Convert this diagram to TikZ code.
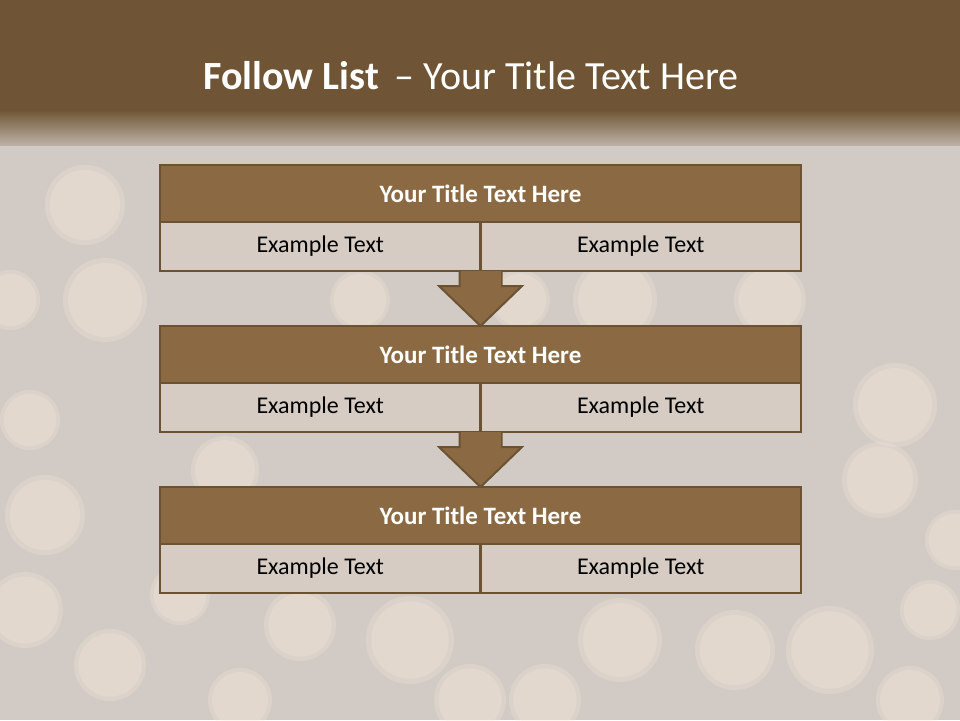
\documentclass[tikz,border=0pt]{standalone}
\usepackage{fontspec}
\setmainfont{Carlito}
\usetikzlibrary{calc}
\definecolor{band}{HTML}{6F5535}
\definecolor{bg}{HTML}{D2CBC5}
\definecolor{fade}{HTML}{BCB1A6}
\definecolor{hdr}{HTML}{8B6A43}
\definecolor{edge}{HTML}{6B5233}
\definecolor{cell}{HTML}{D6CCC4}
\definecolor{bokeh}{HTML}{F8EADA}
\tikzset{
  hdrbox/.style={draw=edge, line width=2.2pt, outer sep=0pt, fill=hdr, minimum width=641pt, minimum height=57pt, inner sep=0pt, text=white, font=\fontsize{25}{30}\selectfont\bfseries},
  cellbox/.style={draw=edge, line width=2.2pt, outer sep=0pt, fill=cell, minimum width=320.5pt, minimum height=49pt, inner sep=0pt, text=black, font=\fontsize{24}{29}\selectfont},
  flowarrow/.style={draw=edge, line width=2pt, fill=hdr, line join=miter},
  blob/.style={fill=bokeh, opacity=0.25},
}
\begin{document}
\begin{tikzpicture}[x=1pt,y=-1pt]
\useasboundingbox (0,0) rectangle (960,720);
% background
\fill[bg] (0,0) rectangle (960,720);
\foreach \x/\y/\r in {85/205/40, 105/300/42, 10/300/30, 895/405/42, 880/480/38, 955/540/30, 45/515/40, 25/610/38, 110/665/36, 410/640/44, 470/700/36, 545/700/36, 620/640/42, 735/650/40, 830/650/44, 910/700/34, 300/625/36, 225/470/34, 615/300/42, 770/300/36, 705/385/34, 240/700/32, 520/300/30, 360/300/30, 930/610/30, 180/595/30, 30/420/30}
  {\fill[blob] (\x,\y) circle (\r);
   \fill[blob] (\x,\y) circle (0.88*\r);}
\fill[band] (0,0) rectangle (960,110);
\shade[top color=band, bottom color=fade] (0,110) rectangle (960,145);
% title
\node[text=white, font=\fontsize{40}{48}\selectfont] (title) at (471,76) {\textbf{Follow List} \,– Your Title Text Here};
% boxes
\foreach \n/\t in {1/165,2/326,3/487} {
  \node[hdrbox, anchor=north west] (h\n) at (160,\t) {Your Title Text Here};
  \node[cellbox, anchor=north west] (l\n) at (h\n.south west) {Example Text};
  \node[cellbox, anchor=north east] (r\n) at (h\n.south east) {Example Text};
}
% arrows
\foreach \a/\b in {1/2,2/3} {
  \path ($(l\a.south east)!0.5!(r\a.south west)$) coordinate (s\a)
        (h\b.north) coordinate (t\b);
  \draw[flowarrow] ($(s\a)+(-21,1)$) -- ($(s\a)+(-21,15)$) -- ($(s\a)+(-41.5,15)$) -- (t\b) -- ($(s\a)+(41.5,15)$) -- ($(s\a)+(21,15)$) -- ($(s\a)+(21,1)$);
  \fill[hdr] ($(s\a)+(-20,-0.5)$) rectangle ($(s\a)+(20,16)$);
}
\end{tikzpicture}
\end{document}
